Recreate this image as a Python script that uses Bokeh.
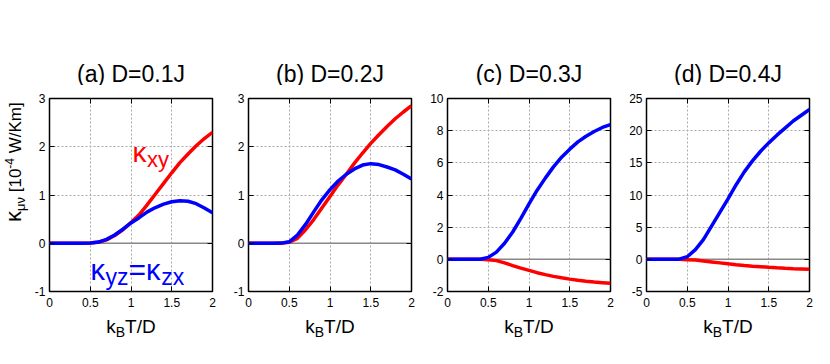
from bokeh.plotting import figure
from bokeh.models import Range1d, FixedTicker, LinearAxis, Label, Span, Div
from bokeh.layouts import row, column
from bokeh.embed import file_html
from bokeh.resources import INLINE

# ---------------- data ----------------
T = [0.0, 0.1, 0.2, 0.3, 0.4, 0.5, 0.6, 0.7, 0.8, 0.9, 1.0,
     1.1, 1.2, 1.3, 1.4, 1.5, 1.6, 1.7, 1.8, 1.9, 2.0]

a_xy = [0, 0, 0, 0, 0, 0.005, 0.02, 0.07, 0.16, 0.28, 0.43,
        0.59, 0.80, 1.02, 1.24, 1.46, 1.67, 1.85, 2.02, 2.17, 2.30]
a_yz = [0, 0, 0, 0, 0, 0.005, 0.025, 0.08, 0.17, 0.29, 0.42,
        0.53, 0.65, 0.74, 0.81, 0.86, 0.88, 0.87, 0.82, 0.73, 0.63]

b_xy = [0, 0, 0, 0, 0.002, 0.02, 0.10, 0.28, 0.49, 0.73, 0.97,
        1.21, 1.43, 1.66, 1.87, 2.07, 2.25, 2.42, 2.58, 2.72, 2.85]
b_yz = [0, 0, 0, 0, 0.003, 0.03, 0.17, 0.39, 0.65, 0.90, 1.11,
        1.29, 1.43, 1.54, 1.62, 1.65, 1.63, 1.58, 1.52, 1.43, 1.33]

c_xy = [0, 0, 0, 0, 0, -0.02, -0.08, -0.22, -0.39, -0.55, -0.69,
        -0.83, -0.95, -1.06, -1.15, -1.23, -1.30, -1.36, -1.41, -1.45, -1.49]
c_yz = [0, 0, 0, 0, 0.01, 0.12, 0.45, 1.0, 1.7, 2.55, 3.45,
        4.3, 5.05, 5.75, 6.35, 6.85, 7.3, 7.65, 7.95, 8.2, 8.38]

d_xy = [0, 0, 0, 0, 0, -0.05, -0.12, -0.25, -0.40, -0.55, -0.70,
        -0.83, -0.95, -1.06, -1.15, -1.24, -1.32, -1.39, -1.45, -1.50, -1.55]
d_yz = [0, 0, 0, 0, 0.03, 0.4, 1.5, 3.1, 5.2, 7.3, 9.4,
        11.6, 13.6, 15.3, 16.8, 18.1, 19.3, 20.4, 21.5, 22.4, 23.3]

titles = ["(a) D=0.1J", "(b) D=0.2J", "(c) D=0.3J", "(d) D=0.4J"]
y_ranges = [(-1, 3), (-1, 3), (-2, 10), (-5, 25)]
y_ticks = [[-1, 0, 1, 2, 3], [-1, 0, 1, 2, 3],
           [-2, 0, 2, 4, 6, 8, 10], [-5, 0, 5, 10, 15, 20, 25]]
x_ticks = [0, 0.5, 1, 1.5, 2]
x_tick_labels = ["0", "0.5", "1", "1.5", "2"]
series_xy = [a_xy, b_xy, c_xy, d_xy]
series_yz = [a_yz, b_yz, c_yz, d_yz]

# ---------------- layout (page pixels) ----------------
FONT = "Liberation Sans"
FW, FH = 163, 193
TOP_H = 85            # strip with the titles
MID_TOP, MID_BOTTOM = 13, 21
MID_H = MID_TOP + FH + MID_BOTTOM
BOT_H = 40
YL_W = 28             # strip with the y label
YL_START = 222        # page y where the rotated y label starts
lefts = [21, 28, 28, 28]
rights = [8, 8, 8, 13]
frame_left_page = [49, 248, 447, 646]
RED = "#ff0000"
BLUE = "#0000ff"
TOTAL_W = YL_W + sum(lefts) + 4 * FW + sum(rights)

WID = {'k': 0.5, 'B': 0.667, 'T': 0.611, '/': 0.278, 'D': 0.722, ' ': 0.278,
       '[': 0.278, ']': 0.278, '1': 0.556, '0': 0.556, '-': 0.333, '4': 0.556,
       'W': 0.944, 'K': 0.667, 'm': 0.833, 'x': 0.5, 'y': 0.5, 'z': 0.5,
       '=': 0.584, 'κ': 0.52, 'μ': 0.576, 'ν': 0.5}


def tw(s, size):
    return sum(WID.get(c, 0.556) for c in s) * size


def text_strip(w, h):
    f = figure(width=w, height=h, x_range=Range1d(0, w), y_range=Range1d(0, h),
               output_backend="svg", toolbar_location=None, min_border=0,
               x_axis_location=None, y_axis_location=None)
    f.outline_line_color = None
    f.grid.visible = False
    return f


def put(f, s, size, color, x, y, align="left"):
    f.add_layout(Label(x=x, y=y, text=s, text_font=FONT,
                       text_font_size=f"{size}px", text_color=color,
                       text_align=align, text_baseline="alphabetic"))


# title strip (page y 0..85)
top = text_strip(TOTAL_W, TOP_H)
for i in range(4):
    cx = frame_left_page[i] + FW / 2
    put(top, titles[i], 23, "black", cx, TOP_H - 73, align="center")

# x-label strip
bot_top_page = TOP_H + MID_H
bot = text_strip(TOTAL_W, BOT_H)
for i in range(4):
    cx = frame_left_page[i] + FW / 2
    total = tw("k", 19) + tw("B", 14) + tw("T/D", 19)
    x0 = cx - total / 2
    for s, size, base in (("k", 19, 326), ("B", 14, 331), ("T/D", 19, 326)):
        put(bot, s, size, "black", x0, BOT_H - (base - bot_top_page))
        x0 += tw(s, size)

# y-label strip: rotated HTML text with real sub/superscripts
yl_html = (
    f'<div style="position:relative;width:{YL_W}px;height:{MID_H}px;">'
    f'<div style="position:absolute;left:-1px;top:{YL_START - TOP_H}px;'
    'transform:rotate(-90deg);transform-origin:0 0;white-space:nowrap;'
    f"font-family:'{FONT}';font-size:17px;line-height:22px;color:black;\">"
    '<span style="font-size:22px;">κ</span>'
    '<span style="font-size:13px;vertical-align:-4px;">μν</span>'
    ' [10<span style="font-size:12px;vertical-align:7px;">-4</span>'
    ' W/Km]</div></div>'
)
yl = Div(text=yl_html, width=YL_W, height=MID_H, margin=0)


def make_panel(i):
    ylo, yhi = y_ranges[i]
    p = figure(width=lefts[i] + FW + rights[i], height=MID_H,
               x_range=Range1d(0, 2), y_range=Range1d(ylo, yhi),
               output_backend="svg", toolbar_location=None,
               min_border_left=lefts[i], min_border_right=rights[i],
               min_border_top=MID_TOP, min_border_bottom=MID_BOTTOM)
    p.background_fill_color = "white"
    p.border_fill_color = "white"
    p.outline_line_color = "black"
    p.outline_line_width = 1.5

    xt = FixedTicker(ticks=x_ticks)
    yt = FixedTicker(ticks=y_ticks[i])
    p.xaxis.ticker = xt
    p.yaxis.ticker = yt
    p.xaxis.major_label_overrides = {t: s for t, s in zip(x_ticks, x_tick_labels)}
    p.yaxis.major_label_overrides = {t: str(t) for t in y_ticks[i]}
    p.xgrid.ticker = xt
    p.ygrid.ticker = yt
    for ax in p.xaxis + p.yaxis:
        ax.major_tick_in = 5
        ax.major_tick_out = 0
        ax.minor_tick_line_color = None
        ax.axis_line_color = None
        ax.major_tick_line_color = "black"
        ax.major_tick_line_width = 1
        ax.major_label_text_font = FONT
        ax.major_label_text_font_size = "12px"
        ax.major_label_text_color = "black"
    p.xaxis.major_label_standoff = 6
    p.yaxis.major_label_standoff = 4

    # mirrored ticks on top and right
    for loc, tk in (("right", yt), ("above", xt)):
        ax = LinearAxis(ticker=tk, major_tick_in=5, major_tick_out=0,
                        axis_line_color=None, minor_tick_line_color=None,
                        major_tick_line_color="black",
                        major_label_text_font_size="0px",
                        major_label_standoff=0,
                        major_label_overrides={t: "" for t in tk.ticks})
        p.add_layout(ax, loc)

    p.grid.grid_line_color = "#aaaaaa"
    p.grid.grid_line_dash = "2 2"
    p.grid.grid_line_width = 1

    p.add_layout(Span(location=0, dimension="width", line_color="#888888",
                      line_width=1.5, level="underlay"))

    p.line(T, series_xy[i], line_color=RED, line_width=3.5)
    p.line(T, series_yz[i], line_color=BLUE, line_width=3.5)

    def dx(px):
        return (px - frame_left_page[i]) / FW * 2.0

    def dy(py):
        return yhi - (py - (TOP_H + MID_TOP)) / FH * (yhi - ylo)

    if i == 0:
        x0 = 132
        for s, size, base in (("κ", 28, 152), ("xy", 22, 159)):
            p.add_layout(Label(x=dx(x0), y=dy(base), text=s, text_font=FONT,
                               text_font_size=f"{size}px", text_color=RED,
                               text_align="left", text_baseline="alphabetic"))
            x0 += tw(s, size)
        x0 = 90
        for s, size, base in (("κ", 29, 269), ("yz", 23, 276), ("=", 30, 269),
                              ("κ", 29, 269), ("zx", 23, 276)):
            p.add_layout(Label(x=dx(x0), y=dy(base), text=s, text_font=FONT,
                               text_font_size=f"{size}px", text_color=BLUE,
                               text_align="left", text_baseline="alphabetic"))
            x0 += tw(s, size)
    return p


panels = [make_panel(i) for i in range(4)]
layout = column(top, row(yl, *panels), bot)

open("out.html", "w").write(file_html(layout, INLINE))
